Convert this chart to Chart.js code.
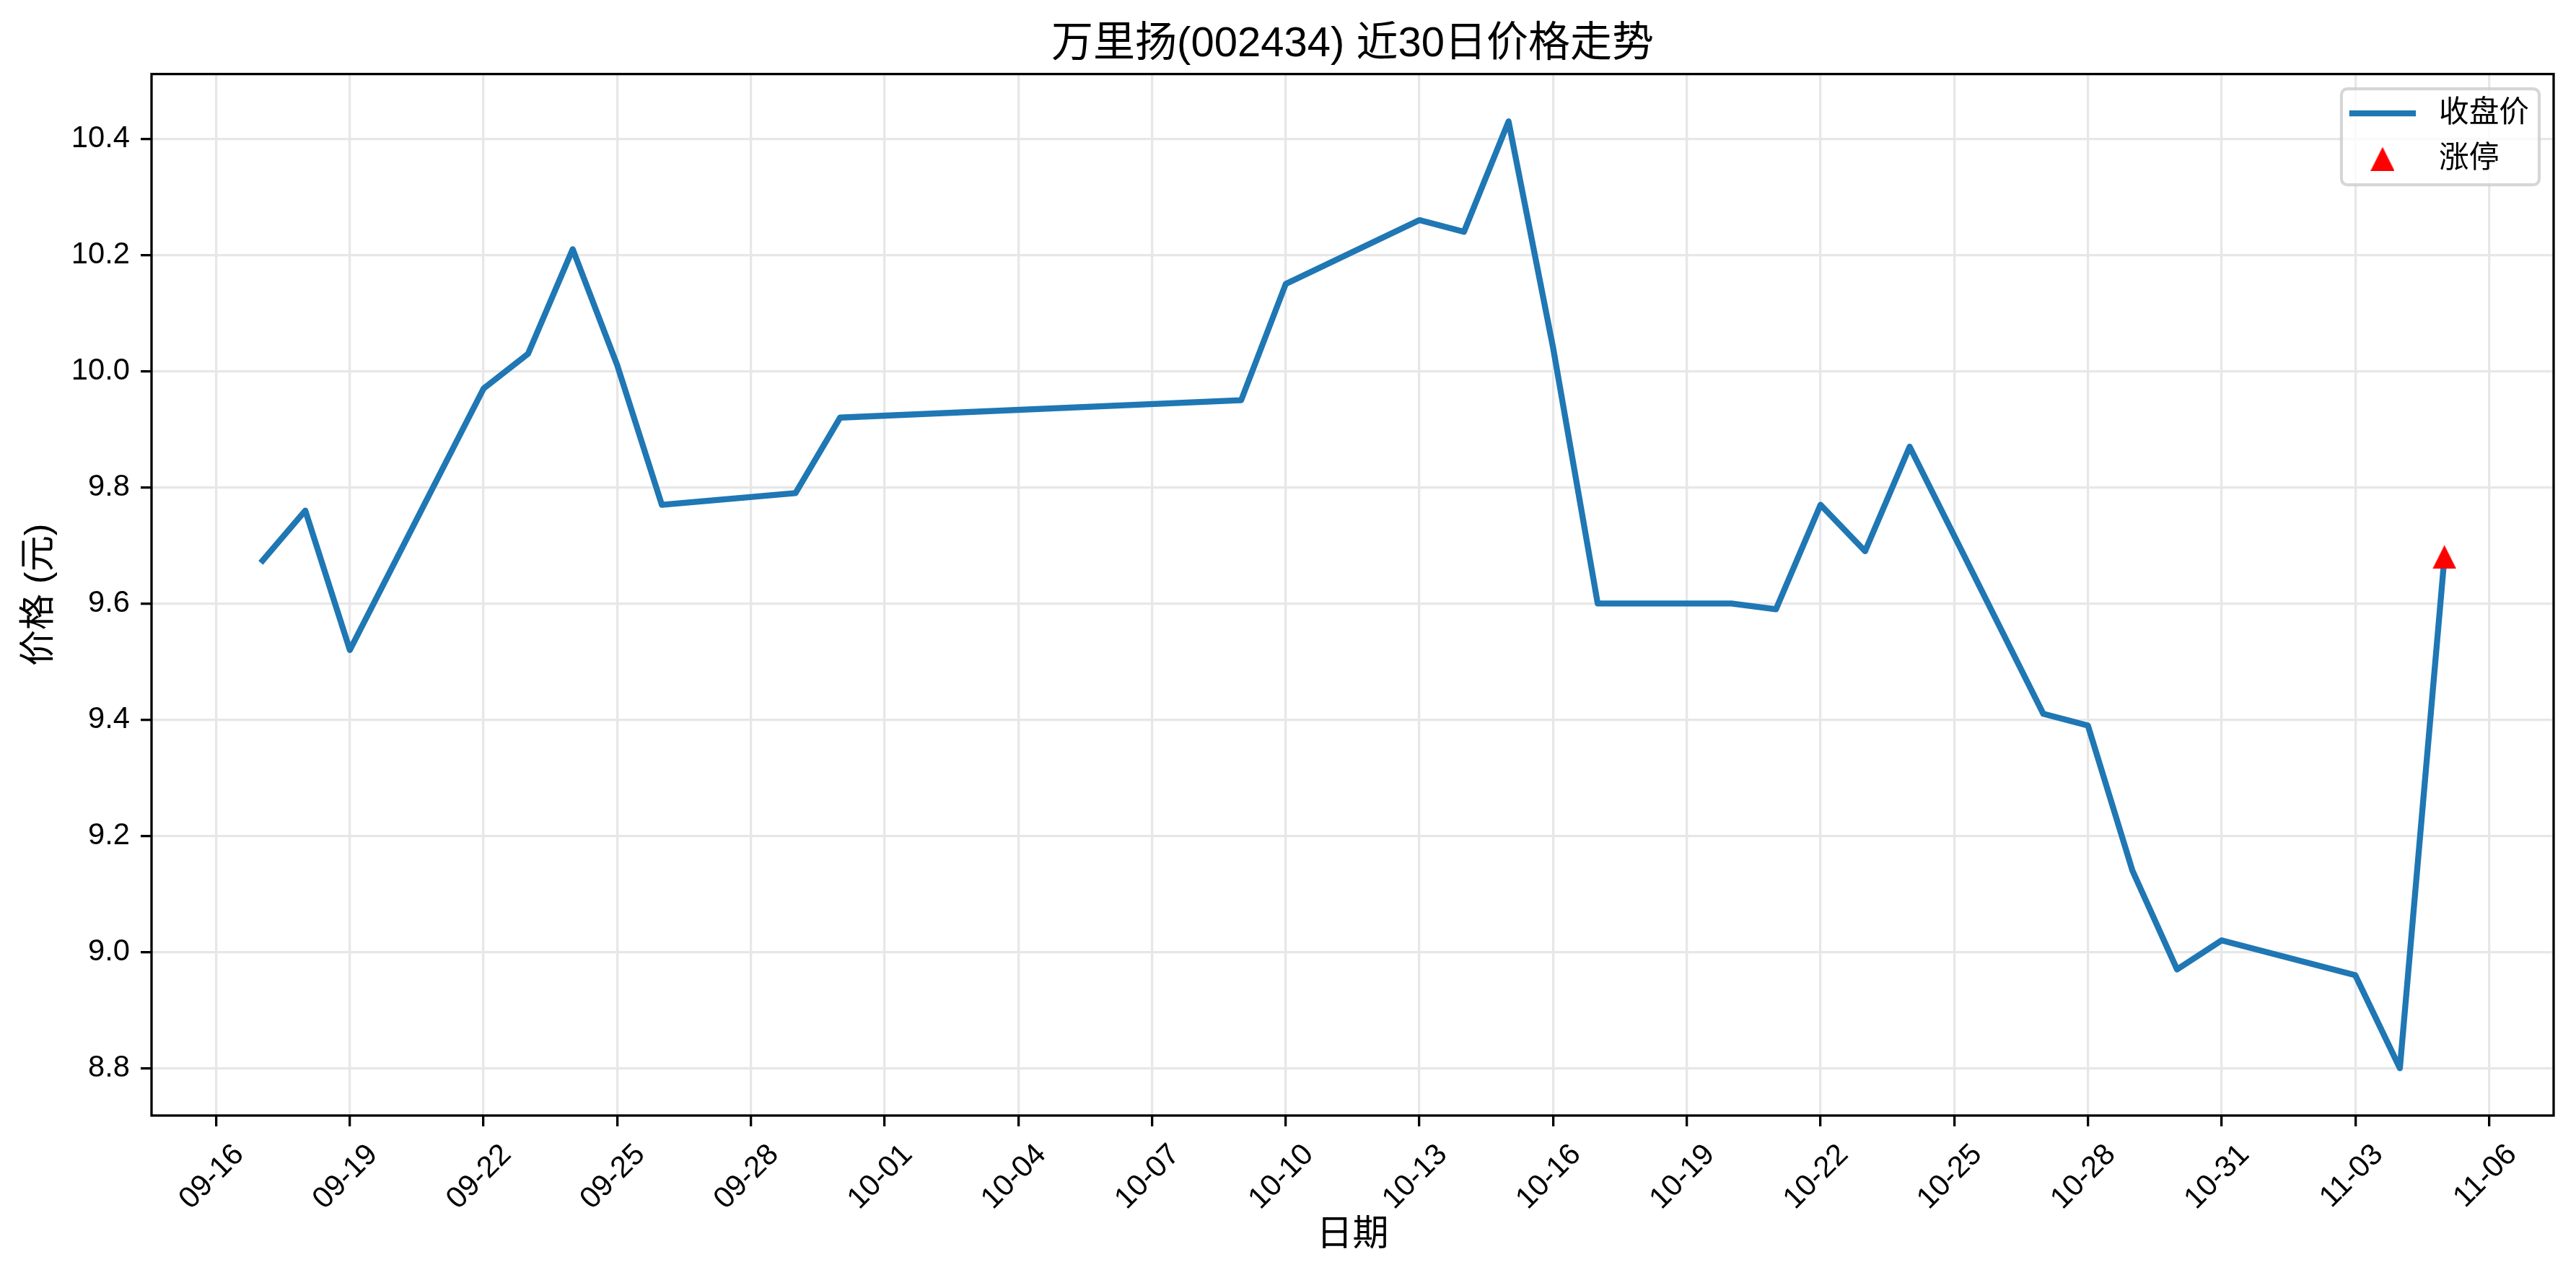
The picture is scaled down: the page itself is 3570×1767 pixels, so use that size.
<!DOCTYPE html>
<html>
<head>
<meta charset="utf-8">
<title>万里扬(002434) 近30日价格走势</title>
<script src="https://cdn.jsdelivr.net/npm/chart.js@4.4.0/dist/chart.umd.min.js"></script>
<style>
  html, body { margin: 0; padding: 0; background: #ffffff; }
  canvas { display: block; }
</style>
</head>
<body>
<canvas id="chart" width="3570" height="1767"></canvas>
<script>
const fontFamily = "'Liberation Sans', 'Noto Sans CJK SC', sans-serif";
const year = 2025;

// closing prices (MM-DD, price)
const dates = [
    '09-17', '09-18', '09-19', '09-22', '09-23', '09-24', '09-25', '09-26',
    '09-29', '09-30', '10-09', '10-10', '10-13', '10-14', '10-15', '10-16',
    '10-17', '10-20', '10-21', '10-22', '10-23', '10-24', '10-27', '10-28',
    '10-29', '10-30', '10-31', '11-03', '11-04', '11-05',
];
const closes = [
    9.67, 9.76, 9.52, 9.97, 10.03, 10.21, 10.01, 9.77,
    9.79, 9.92, 9.95, 10.15, 10.26, 10.24, 10.43, 10.04,
    9.60, 9.60, 9.59, 9.77, 9.69, 9.87, 9.41, 9.39,
    9.14, 8.97, 9.02, 8.96, 8.80, 9.68,
];

// limit-up days
const limitUpDates = ['11-05'];
const limitUpPrices = [9.68];

// axis ticks
const xTickDates = [
    '09-16', '09-19', '09-22', '09-25', '09-28', '10-01', '10-04', '10-07', '10-10',
    '10-13', '10-16', '10-19', '10-22', '10-25', '10-28', '10-31', '11-03', '11-06',
];
const yTicks = [8.8, 9.0, 9.2, 9.4, 9.6, 9.8, 10.0, 10.2, 10.4];

const baseTime = Date.UTC(year, 8, 16);
const dayMs = 86400000;

function dayIndex(s) {
    const [m, d] = s.split('-').map(Number);
    return (Date.UTC(year, m - 1, d) - baseTime) / dayMs;
}

function dayLabel(n) {
    const t = new Date(baseTime + Math.round(n) * dayMs);
    const mm = String(t.getUTCMonth() + 1).padStart(2, '0');
    const dd = String(t.getUTCDate()).padStart(2, '0');
    return mm + '-' + dd;
}

// matplotlib-like 5% autoscale margins
const xs = dates.map(dayIndex);
const xSpan = xs[xs.length - 1] - xs[0];
const xMin = xs[0] - 0.05 * xSpan;
const xMax = xs[xs.length - 1] + 0.05 * xSpan;
const allY = closes.concat(limitUpPrices);
const yLo = Math.min(...allY);
const yHi = Math.max(...allY);
const yMin = yLo - 0.05 * (yHi - yLo);
const yMax = yHi + 0.05 * (yHi - yLo);

// '^' marker like matplotlib (equal width and height)
function makeTriangle(size, color) {
    const c = document.createElement('canvas');
    c.width = size;
    c.height = size;
    const g = c.getContext('2d');
    g.fillStyle = color;
    g.beginPath();
    g.moveTo(size / 2, 0);
    g.lineTo(size, size);
    g.lineTo(0, size);
    g.closePath();
    g.fill();
    return c;
}
const triangle = makeTriangle(33, '#ff0000');

const lineColor = '#1f77b4';
const gridColor = '#e7e7e7';
const tickFont = { family: fontFamily, size: 41.7 };
const labelFont = { family: fontFamily, size: 50 };

const framePlugin = {
    id: 'frame',
    afterDatasetsDraw(chart) {
        const { ctx, chartArea: a } = chart;
        ctx.save();
        ctx.strokeStyle = '#000000';
        ctx.lineWidth = 3.3;
        ctx.strokeRect(a.left, a.top, a.right - a.left, a.bottom - a.top);
        ctx.restore();
    }
};

const legendPlugin = {
    id: 'boxLegend',
    afterDraw(chart) {
        const { ctx, chartArea: a } = chart;
        const ds = chart.data.datasets;
        const right = a.right - 20;
        const top = a.top + 20.5;
        ctx.save();
        ctx.font = '41.7px ' + fontFamily;
        const textW = Math.max(...ds.map(d => ctx.measureText(d.label).width));
        const w = 135 + textW + 14;
        const h = 133;
        const left = right - w;

        ctx.beginPath();
        ctx.roundRect(left, top, w, h, 8);
        ctx.fillStyle = 'rgba(255,255,255,0.8)';
        ctx.fill();
        ctx.strokeStyle = 'rgba(204,204,204,0.8)';
        ctx.lineWidth = 4.2;
        ctx.stroke();

        const rows = [top + 34, top + 97];
        ds.forEach((d, i) => {
            const y = rows[i];
            if (d.showLine === false) {
                ctx.drawImage(triangle, left + 57 - triangle.width / 2, y - triangle.height / 2);
            } else {
                ctx.beginPath();
                ctx.moveTo(left + 15, y);
                ctx.lineTo(left + 99, y);
                ctx.strokeStyle = d.borderColor;
                ctx.lineWidth = d.borderWidth;
                ctx.lineCap = 'square';
                ctx.stroke();
            }
            ctx.fillStyle = '#000000';
            ctx.textBaseline = 'middle';
            ctx.textAlign = 'left';
            ctx.fillText(d.label, left + 135, y);
        });
        ctx.restore();
    }
};

const ctx = document.getElementById('chart').getContext('2d');

new Chart(ctx, {
    type: 'line',
    data: {
        datasets: [
            {
                label: '收盘价',
                data: dates.map((d, i) => ({ x: dayIndex(d), y: closes[i] })),
                borderColor: lineColor,
                backgroundColor: lineColor,
                borderWidth: 8.3,
                borderJoinStyle: 'round',
                pointRadius: 0,
                tension: 0,
                order: 1,
            },
            {
                label: '涨停',
                data: limitUpDates.map((d, i) => ({ x: dayIndex(d), y: limitUpPrices[i] })),
                showLine: false,
                pointStyle: triangle,
                pointRadius: 16,
                backgroundColor: '#ff0000',
                borderWidth: 0,
                order: 0,
            },
        ]
    },
    options: {
        responsive: false,
        animation: false,
        devicePixelRatio: 1,
        layout: { padding: { left: 0, right: 31, top: 0, bottom: 0 } },
        plugins: {
            legend: { display: false },
            tooltip: { enabled: false },
            title: {
                display: true,
                fullSize: false,
                text: '万里扬(002434) 近30日价格走势',
                color: '#000000',
                font: { family: fontFamily, size: 58, weight: 'normal' },
                padding: { top: 27, bottom: 6 }
            }
        },
        scales: {
            x: {
                type: 'linear',
                min: xMin,
                max: xMax,
                afterBuildTicks: (scale) => {
                    scale.ticks = xTickDates.map(d => ({ value: dayIndex(d) }));
                },
                afterFit: (scale) => { scale.height = 221; },
                ticks: {
                    autoSkip: false,
                    maxRotation: 45,
                    minRotation: 45,
                    padding: 15,
                    labelOffset: 32,
                    color: '#000000',
                    font: tickFont,
                    callback: (v) => dayLabel(v)
                },
                grid: {
                    color: gridColor,
                    lineWidth: 3.3,
                    tickColor: '#000000',
                    tickWidth: 3.3,
                    tickLength: 15
                },
                border: { display: false },
                title: {
                    display: true,
                    text: '日期',
                    color: '#000000',
                    font: labelFont,
                    padding: { top: 0, bottom: 25 }
                }
            },
            y: {
                min: yMin,
                max: yMax,
                afterBuildTicks: (scale) => {
                    scale.ticks = yTicks.map(v => ({ value: v }));
                },
                afterFit: (scale) => { scale.width = 210; },
                ticks: {
                    padding: 15,
                    color: '#000000',
                    font: tickFont,
                    callback: (v) => v.toFixed(1)
                },
                grid: {
                    color: gridColor,
                    lineWidth: 3.3,
                    tickColor: '#000000',
                    tickWidth: 3.3,
                    tickLength: 15
                },
                border: { display: false },
                title: {
                    display: true,
                    text: '价格 (元)',
                    color: '#000000',
                    font: labelFont,
                    padding: { top: 25, bottom: 0 }
                }
            }
        }
    },
    plugins: [framePlugin, legendPlugin]
});
</script>
</body>
</html>
